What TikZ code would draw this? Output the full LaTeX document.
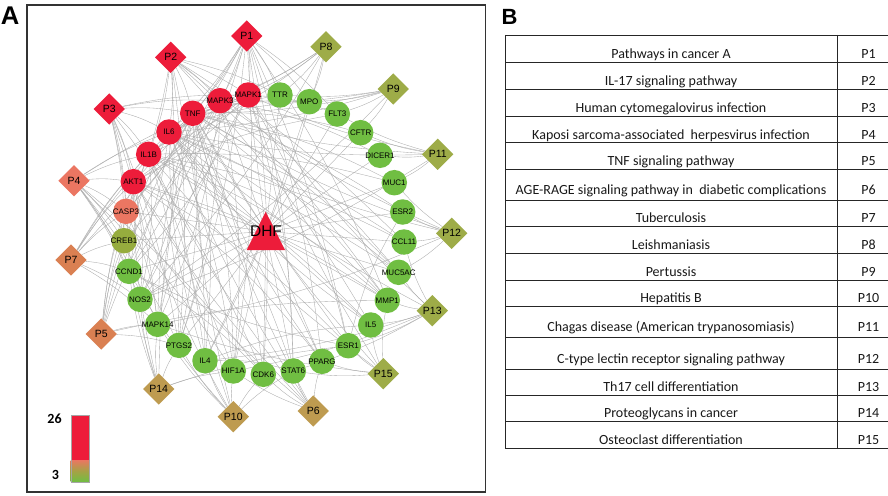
\documentclass[tikz,border=0pt]{standalone}
\usepackage{fontspec}
\setmainfont{Liberation Sans}
\newfontfamily\calib{Carlito}
\usetikzlibrary{shapes.geometric,backgrounds}
\definecolor{cred}{RGB}{237,28,58}
\definecolor{csalmon}{RGB}{235,118,98}
\definecolor{corange}{RGB}{218,128,82}
\definecolor{ctan}{RGB}{190,155,80}
\definecolor{colive}{RGB}{158,172,72}
\definecolor{ccreb}{RGB}{150,172,62}
\definecolor{cgreen}{RGB}{112,190,66}
\definecolor{cedge}{RGB}{172,172,172}
\newcommand{\glab}[1]{\makebox[0pt][c]{#1}}
\tikzset{
  gene/.style={circle, minimum size=25.5pt, inner sep=0pt, font=\fontsize{8}{8}\selectfont, text=black},
  pw/.style={diamond, minimum size=31.5pt, inner sep=0pt, font=\fontsize{10.5}{10.5}\selectfont, text=black},
  edge/.style={draw=cedge, line width=0.35pt},
  tline/.style={line width=0.8pt, draw=black!85},
  ttext/.style={font=\calib\fontsize{14}{14}\selectfont, anchor=base, inner sep=0pt, text=black!90},
  panel/.style={font=\bfseries, inner sep=0pt, text=black}
}
\begin{document}
\begin{tikzpicture}[x=1pt,y=-1pt]
\useasboundingbox (0,0) rectangle (888,495);
% panel labels
\node[panel, font=\bfseries\fontsize{25.6}{26}\selectfont] (labA) at (10,16) {A};
\node[panel, font=\bfseries\fontsize{22}{22}\selectfont] (labB) at (509.5,17) {B};
% frame of panel A
\draw[line width=1.4pt, draw=black!80] (27,5) rectangle (485.5,492);
% genes
\node[gene, fill=cred] (MAPK1) at (248.3,95) {\glab{MAPK1}};
\node[gene, fill=cred] (MAPK3) at (220,100.7) {\glab{MAPK3}};
\node[gene, fill=cred] (TNF) at (192.7,113.3) {\glab{TNF}};
\node[gene, fill=cred] (IL6) at (169,132) {\glab{IL6}};
\node[gene, fill=cred] (IL1B) at (148.7,154.3) {\glab{IL1B}};
\node[gene, fill=cred] (AKT1) at (133.3,181.7) {\glab{AKT1}};
\node[gene, fill=csalmon] (CASP3) at (126,211.3) {\glab{CASP3}};
\node[gene, fill=ccreb] (CREB1) at (124,240.7) {\glab{CREB1}};
\node[gene, fill=cgreen] (CCND1) at (129,271.3) {\glab{CCND1}};
\node[gene, fill=cgreen] (NOS2) at (140,299.3) {\glab{NOS2}};
\node[gene, fill=cgreen] (MAPK14) at (157.7,324.3) {\glab{MAPK14}};
\node[gene, fill=cgreen] (PTGS2) at (179,345.3) {\glab{PTGS2}};
\node[gene, fill=cgreen] (IL4) at (205,360.7) {\glab{IL4}};
\node[gene, fill=cgreen] (HIF1A) at (233.3,371) {\glab{HIF1A}};
\node[gene, fill=cgreen] (CDK6) at (263.3,374.3) {\glab{CDK6}};
\node[gene, fill=cgreen] (STAT6) at (293.3,371) {\glab{STAT6}};
\node[gene, fill=cgreen] (PPARG) at (322,361.3) {\glab{PPARG}};
\node[gene, fill=cgreen] (ESR1) at (348.3,345.7) {\glab{ESR1}};
\node[gene, fill=cgreen] (IL5) at (370.7,325) {\glab{IL5}};
\node[gene, fill=cgreen] (MMP1) at (387.3,300.3) {\glab{MMP1}};
\node[gene, fill=cgreen] (MUC5AC) at (398.7,272.3) {\glab{MUC5AC}};
\node[gene, fill=cgreen] (CCL11) at (404,242) {\glab{CCL11}};
\node[gene, fill=cgreen] (ESR2) at (402.7,212) {\glab{ESR2}};
\node[gene, fill=cgreen] (MUC1) at (394.3,182.7) {\glab{MUC1}};
\node[gene, fill=cgreen] (DICER1) at (380,155.3) {\glab{DICER1}};
\node[gene, fill=cgreen] (CFTR) at (360.7,132.7) {\glab{CFTR}};
\node[gene, fill=cgreen] (FLT3) at (337.3,114) {\glab{FLT3}};
\node[gene, fill=cgreen] (MPO) at (309.3,101.7) {\glab{MPO}};
\node[gene, fill=cgreen] (TTR) at (280,95) {\glab{TTR}};
% pathways
\node[pw, fill=cred] (P1) at (246.7,36) {P1};
\node[pw, fill=cred] (P2) at (170.7,57.3) {P2};
\node[pw, fill=cred] (P3) at (109.3,109) {P3};
\node[pw, fill=csalmon] (P4) at (74,180.7) {P4};
\node[pw, fill=corange] (P7) at (71,260) {P7};
\node[pw, fill=corange] (P5) at (101.3,334) {P5};
\node[pw, fill=ctan] (P14) at (158.7,389) {P14};
\node[pw, fill=ctan] (P10) at (233.3,416.7) {P10};
\node[pw, fill=ctan] (P6) at (313.3,411) {P6};
\node[pw, fill=colive] (P15) at (383.3,373.7) {P15};
\node[pw, fill=colive] (P13) at (432.3,310.7) {P13};
\node[pw, fill=colive] (P12) at (451.7,233.3) {P12};
\node[pw, fill=colive] (P11) at (437.7,154.3) {P11};
\node[pw, fill=colive] (P9) at (393.3,89) {P9};
\node[pw, fill=colive] (P8) at (326,46.7) {P8};
% DHF
\fill[cred] (265.7,211.7) -- (285,250) -- (246.7,250) -- cycle;
\node[inner sep=0pt, font=\fontsize{15.5}{16}\selectfont, text=black] (DHF) at (266,231.5) {DHF};
% edges
\begin{scope}[on background layer]
\fill[white] (0,0) rectangle (888,495);
\foreach \g in {MAPK1,MAPK3,TNF,IL6,IL1B,AKT1,CASP3,CREB1,CCND1,NOS2,MAPK14,PTGS2,IL4,HIF1A,CDK6,STAT6,PPARG,ESR1,IL5,MMP1,MUC5AC,CCL11,ESR2,MUC1,DICER1,CFTR,FLT3,MPO,TTR}
  \draw[edge] (DHF.center) -- (\g);
\foreach \p/\gl in {
  P1/{MAPK1,MAPK3,TNF,IL6,AKT1,CASP3,CCND1,NOS2,PTGS2,HIF1A,CDK6,STAT6,PPARG,ESR1,MMP1,FLT3,TTR,MPO},
  P2/{MAPK1,MAPK3,TNF,IL6,IL1B,CASP3,MAPK14,PTGS2,IL4,IL5,MMP1,MUC5AC,CCL11,TTR},
  P3/{MAPK1,MAPK3,TNF,IL6,IL1B,AKT1,CASP3,CREB1,CCND1,MAPK14,PTGS2,CDK6},
  P4/{MAPK1,IL1B,AKT1,CASP3,CREB1,CCND1,NOS2,MAPK14,PTGS2,HIF1A,CDK6,IL6},
  P7/{CASP3,CREB1,CCND1,AKT1,IL1B,TNF,NOS2,MAPK14,IL6,MAPK1},
  P5/{AKT1,CASP3,CREB1,IL1B,TNF,MAPK14,PTGS2,IL6,MAPK3,MMP1},
  P14/{NOS2,MAPK14,PTGS2,CCND1,CASP3,HIF1A,ESR1,AKT1,TNF},
  P10/{IL4,HIF1A,CDK6,STAT6,PTGS2,MAPK14,CCND1,AKT1,TNF,IL6},
  P6/{STAT6,CDK6,HIF1A,PPARG,TNF,IL6,IL1B,AKT1,CASP3},
  P15/{ESR1,IL5,PPARG,STAT6,MMP1,MAPK14,TNF,MAPK1,IL1B},
  P13/{MUC5AC,MMP1,IL5,ESR1,CCL11,IL6,STAT6,HIF1A,IL4,MAPK1},
  P12/{ESR2,CCL11,MUC1,MUC5AC,IL6,TNF,MAPK14,MAPK3},
  P11/{DICER1,CFTR,MUC1,FLT3,NOS2,IL6,TNF,MAPK1},
  P9/{MPO,FLT3,CFTR,TTR,MAPK3,IL6,TNF,NOS2},
  P8/{MAPK1,TTR,MPO,MAPK3,IL1B,TNF,NOS2,IL4}}
  \foreach \g in \gl \draw[edge] (\p) to[bend left=6] (\g);
\foreach \a/\b in {MAPK1/MAPK3,MAPK1/AKT1,MAPK3/AKT1,MAPK1/TNF,MAPK3/IL6,TNF/IL6,TNF/IL1B,IL6/IL1B,
  AKT1/CASP3,TNF/CASP3,IL6/STAT6,IL6/HIF1A,TNF/PTGS2,IL1B/PTGS2,TNF/MMP1,IL1B/MMP1,IL6/CCL11,
  TNF/NOS2,IL1B/NOS2,AKT1/HIF1A,AKT1/CCND1,CCND1/CDK6,ESR1/CCND1,ESR1/ESR2,PPARG/TNF,IL4/IL5,
  IL4/STAT6,IL4/IL6,IL5/IL6,MAPK14/MAPK1,MAPK14/TNF,MAPK3/MAPK14,TNF/MPO,IL6/MUC5AC,TNF/MUC5AC,
  IL1B/MUC5AC,TNF/MUC1,MAPK1/ESR1,AKT1/ESR1,TNF/CFTR,IL1B/CCL11,MAPK3/CREB1,AKT1/PPARG,IL6/PPARG,
  CASP3/MAPK14,MAPK1/CCND1,AKT1/NOS2,IL6/MMP1,TNF/IL4,IL1B/IL4,IL6/MPO,MAPK3/HIF1A,MAPK1/FLT3,
  MAPK3/DICER1,IL6/TTR,TNF/ESR2,IL1B/MUC1,AKT1/FLT3,IL6/CCND1,MAPK1/STAT6,TNF/CDK6,IL1B/IL5,
  AKT1/MMP1,MAPK3/PTGS2,TNF/HIF1A}
  \draw[edge] (\a) to[bend left=8] (\b);
\end{scope}
% legend
\fill[cred] (70.7,415) rectangle (89,460);
\shade[top color=csalmon, bottom color=cgreen, middle color=ccreb!80!csalmon] (70.7,460) rectangle (89,481.7);
\draw[line width=0.3pt, draw=black!35] (70.7,415) rectangle (89,481.7);
\node[font=\calib\bfseries\fontsize{14}{14}\selectfont, inner sep=0pt] (l26) at (54.5,419) {26};
\node[font=\calib\bfseries\fontsize{14}{14}\selectfont, inner sep=0pt] (l3) at (55.5,474.5) {3};
% table B
\foreach \y in {35,62.7,89.3,116,142.7,169.3,200,226.7,253.3,280,306.7,337.7,369,395,421.7,448.3}
  \draw[tline] (505,\y) -- (888,\y);
\draw[tline] (505,35) -- (505,448.3);
\draw[tline] (837,35) -- (837,448.3);
\foreach \b/\t/\p [count=\i] in {
  59/{Pathways in cancer A}/P1,
  85.3/{IL-17 signaling pathway}/P2,
  112.3/{Human cytomegalovirus infection}/P3,
  139/{Kaposi sarcoma-associated\ \ herpesvirus infection}/P4,
  165.7/{TNF signaling pathway}/P5,
  194.3/{AGE-RAGE signaling pathway in\ \ diabetic complications}/P6,
  222.7/{Tuberculosis}/P7,
  249.7/{Leishmaniasis}/P8,
  276/{Pertussis}/P9,
  302.7/{Hepatitis B}/P10,
  331.7/{Chagas disease (American trypanosomiasis)}/P11,
  363.3/{C-type lectin receptor signaling pathway}/P12,
  391/{Th17 cell differentiation}/P13,
  417.3/{Proteoglycans in cancer}/P14,
  444/{Osteoclast differentiation}/P15}
{
  \node[ttext] (td\i) at (671,\b) {\t};
  \node[ttext] (tp\i) at (868.5,\b) {\p};
}
\end{tikzpicture}
\end{document}
